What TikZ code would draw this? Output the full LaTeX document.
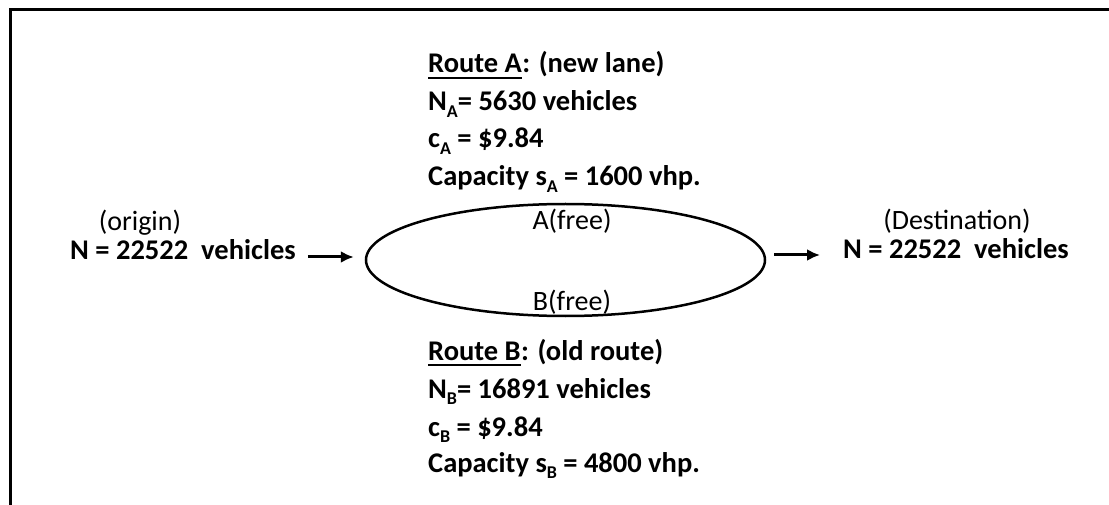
\documentclass[tikz,border=0pt]{standalone}
\usepackage{fontspec}
\setmainfont{Carlito}
\usetikzlibrary{arrows.meta,shapes.geometric}
\newcommand{\lowidx}[1]{\raisebox{-0.5ex}{\fontsize{18}{18}\selectfont #1}}
\begin{document}
\begin{tikzpicture}[x=1pt,y=-1pt,
    lbl/.style={inner sep=0pt,anchor=base west,font=\fontsize{28.5}{33}\selectfont\bfseries},
    note/.style={inner sep=0pt,anchor=base,font=\fontsize{28}{33}\selectfont},
    flow/.style={line width=3pt,-{Latex[length=13pt,width=12pt]}}]
        \useasboundingbox (0,0) rectangle (1109,505);
        \draw[line width=3pt] (10,505) -- (10,10) -- (1109,10);
        % the two routes
        \node[draw,ellipse,line width=2.5pt,minimum width=399,minimum height=112,inner sep=0pt] (loop) at (565.5,260) {};
        \node[note] (freeA) at (572,230) {A(free)};
        \node[note] (freeB) at (572,310) {B(free)};
        % origin and destination
        \node[note] (orig) at (140,231) {(origin)};
        \node[lbl] (srcN) at (70,260) {N = 22522~ vehicles};
        \node[note] (dest) at (957,230) {(Destination)};
        \node[lbl] (destN) at (843,259) {N = 22522~ vehicles};
        \draw[flow,shorten <=12pt,shorten >=11pt] ([yshift=3pt]srcN.base east) -- ([yshift=3pt]srcN.base east -| loop.west);
        \draw[flow,shorten <=8pt,shorten >=23pt] ([yshift=4pt]destN.base west -| loop.east) -- ([yshift=4pt]destN.base west);
        % route A
        \node[lbl] (routeA) at (428,73) {Route A};
        \node[lbl] (routeAx) at (routeA.base east) {: (new lane)};
        \draw[line width=2pt] ([yshift=-5pt]routeA.base west) -- ([yshift=-5pt]routeA.base east);
        \node[lbl] (numA) at (428,110.5) {N\lowidx{A}= 5630 vehicles};
        \node[lbl] (costA) at (428,148) {c\lowidx{A} = \$9.84};
        \node[lbl] (capA) at (428,185.5) {Capacity s\lowidx{A} = 1600 vhp.};
        % route B
        \node[lbl] (routeB) at (428,360) {Route B};
        \node[lbl] (routeBx) at (routeB.base east) {: (old route)};
        \draw[line width=2pt] ([yshift=-5pt]routeB.base west) -- ([yshift=-5pt]routeB.base east);
        \node[lbl] (numB) at (428,398) {N\lowidx{B}= 16891 vehicles};
        \node[lbl] (costB) at (428,436) {c\lowidx{B} = \$9.84};
        \node[lbl] (capB) at (428,472) {Capacity s\lowidx{B} = 4800 vhp.};
    \end{tikzpicture}
\end{document}
